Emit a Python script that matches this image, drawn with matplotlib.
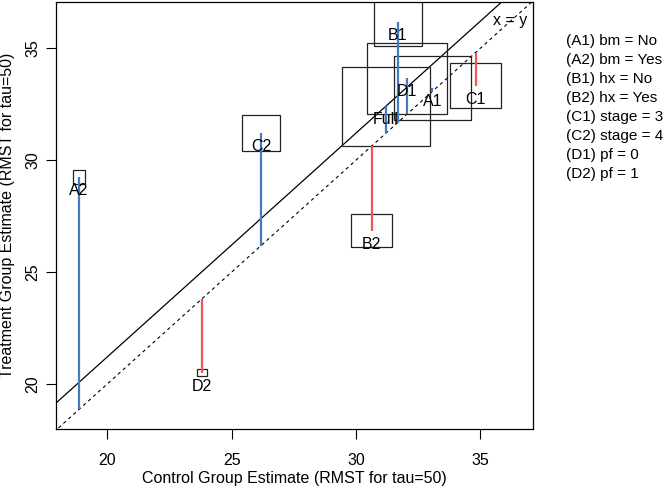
import matplotlib
matplotlib.use('Agg')
import matplotlib.pyplot as plt
from matplotlib.patches import Rectangle

plt.rcParams['font.family'] = ['Liberation Sans', 'DejaVu Sans']

# subgroup estimates (RMST, tau=50)
groups = ['Full', 'A1', 'A2', 'B1', 'B2', 'C1', 'C2', 'D1', 'D2']
control = [31.21, 33.07, 18.87, 31.68, 30.63, 34.81, 26.18, 32.06, 23.81]
treatment = [32.42, 33.21, 29.24, 36.19, 26.85, 33.32, 31.23, 33.66, 20.51]
# box sizes (data units): width ~ control size, height ~ treatment size
box_w = [3.55, 3.11, 0.47, 1.92, 1.65, 2.07, 1.52, 3.20, 0.40]
box_h = [3.53, 2.86, 0.64, 2.14, 1.45, 2.01, 1.61, 3.20, 0.34]

legend_lines = ['(A1) bm = No', '(A2) bm = Yes', '(B1) hx = No', '(B2) hx = Yes',
                '(C1) stage = 3', '(C2) stage = 4', '(D1) pf = 0', '(D2) pf = 1']

xticks = [20, 25, 30, 35]
yticks = [20, 25, 30, 35]

fs = 11.5
blue = '#4479C4'
red = '#F0555A'

fig = plt.figure(figsize=(6.69, 4.88), dpi=100)
ax = fig.add_axes([56 / 669, 59 / 488, 477 / 669, 427 / 488])
ax.set_xlim(17.94, 37.12)
ax.set_ylim(17.99, 37.07)

# reference lines
ax.plot([10, 40], [10, 40], color='black', linestyle=(0, (3, 3)), linewidth=0.8)
full_diff = treatment[0] - control[0]
ax.plot([10, 40], [10 + full_diff, 40 + full_diff], color='black', linewidth=0.9)
ax.text(36.2, 36.25, 'x = y', ha='center', va='center', fontsize=fs)

for g, c, t, w, h in zip(groups, control, treatment, box_w, box_h):
    col = blue if t > c else red
    ax.plot([c, c], [c, t], color=col, linewidth=1.6, solid_capstyle='butt', zorder=3)
    ax.add_patch(Rectangle((c - w / 2, t - h / 2), w, h, fill=False,
                           edgecolor='#222222', linewidth=0.9, zorder=2))
    ax.text(c, t - 0.6, g, ha='center', va='center', fontsize=fs, zorder=4)

ax.set_xticks(xticks)
ax.set_yticks(yticks)
ax.tick_params(direction='out', length=7, width=0.8, labelsize=fs)
ax.tick_params(axis='x', pad=10.5)
ax.tick_params(axis='y', pad=4.5)
for lab in ax.get_yticklabels():
    lab.set_rotation(90)
    lab.set_va('center')
for s in ax.spines.values():
    s.set_linewidth(0.9)

ax.set_xlabel('Control Group Estimate (RMST for tau=50)', fontsize=fs, va='center')
ax.set_ylabel('Treatment Group Estimate (RMST for tau=50)', fontsize=fs, va='center')
ax.xaxis.set_label_coords(0.5, (429 - 479) / 427)
ax.yaxis.set_label_coords((8 - 56) / 477, 0.5)

for i, line in enumerate(legend_lines):
    fig.text(566 / 669, 1 - (41 + 19 * i) / 488, line, fontsize=11, ha='left', va='center')

fig.savefig('out.png', dpi=100)
